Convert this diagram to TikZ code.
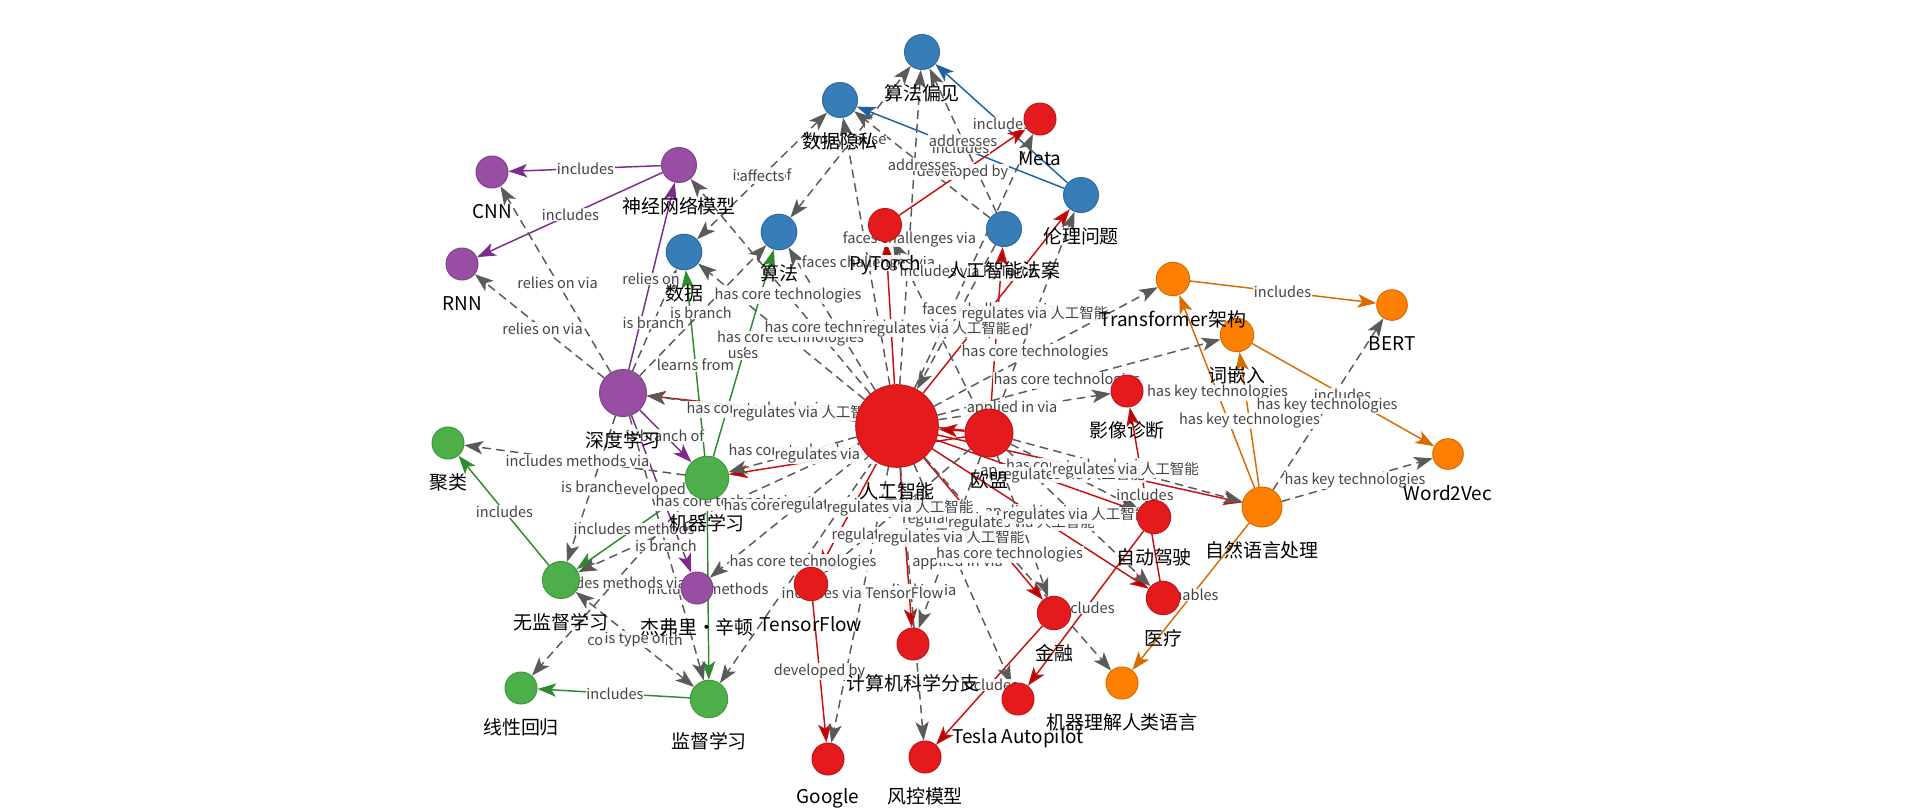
\documentclass[tikz,border=0pt]{standalone}
\usepackage{fontspec}
\setmainfont{Noto Sans CJK SC}
\usetikzlibrary{arrows.meta,calc}
\definecolor{nred}{HTML}{E41A1C}
\definecolor{nblue}{HTML}{377EB8}
\definecolor{ngreen}{HTML}{4DAF4A}
\definecolor{npurple}{HTML}{984EA3}
\definecolor{norange}{HTML}{FF7F00}
\definecolor{egray}{HTML}{5A5A5A}
\definecolor{ered}{HTML}{C81010}
\definecolor{ared}{HTML}{B00000}
\definecolor{epurple}{HTML}{7D2C8C}
\definecolor{egreen}{HTML}{2E8B2E}
\definecolor{eblue}{HTML}{1F62A3}
\definecolor{eorange}{HTML}{D96C00}
\definecolor{labgray}{HTML}{444444}
\pgfdeclarelayer{bg}
\pgfdeclarelayer{edgesA}
\pgfdeclarelayer{edgesB}
\pgfdeclarelayer{elabels}
\pgfdeclarelayer{nlabels}
\pgfsetlayers{bg,edgesA,edgesB,elabels,main,nlabels}
\tikzset{
  gnode/.style={circle,inner sep=0pt,line width=0.75pt},
  nlab/.style={font=\fontsize{14.2pt}{16pt}\selectfont,text=black,inner sep=0pt},
  elab/.style={font=\fontsize{10.9pt}{12pt}\selectfont,text=labgray,fill=white,fill opacity=0.9,text opacity=1,inner sep=0.4pt},
  ed/.style={draw=egray,line width=1.1pt,dash pattern=on 6.5pt off 4pt,-{Stealth[length=14pt,width=10pt,inset=3.5pt,fill=egray]}},
  edb/.style={draw=egray,line width=1.1pt,dash pattern=on 6.5pt off 4pt,{Stealth[length=14pt,width=10pt,inset=3.5pt,fill=egray]}-{Stealth[length=14pt,width=10pt,inset=3.5pt,fill=egray]}},
  er/.style={draw=ered,line width=1.1pt,-{Stealth[length=14pt,width=10pt,inset=3.5pt,fill=ared]}},
  ep/.style={draw=epurple,line width=1.1pt,-{Stealth[length=14pt,width=10pt,inset=3.5pt,fill=epurple]}},
  eg/.style={draw=egreen,line width=1.1pt,-{Stealth[length=14pt,width=10pt,inset=3.5pt,fill=egreen]}},
  eb/.style={draw=eblue,line width=1.1pt,-{Stealth[length=14pt,width=10pt,inset=3.5pt,fill=eblue]}},
  eo/.style={draw=eorange,line width=1.1pt,-{Stealth[length=14pt,width=10pt,inset=3.5pt,fill=eorange]}},
}
\newcommand\GN[6]{%
  \node[gnode,fill=#5,draw=#5!85!black,minimum size=#4*1.5pt] (#1) at (#2,#3) {};
  \begin{pgfonlayer}{nlabels}\node[nlab] (#1L) at ($(#1.south)+(0,23)$) {#6};\end{pgfonlayer}}
\newcommand\LB[3]{\begin{pgfonlayer}{elabels}\node[elab] at ($(#1)!.5!(#2)$) {#3};\end{pgfonlayer}}
\newcommand\EA[4]{\begin{pgfonlayer}{edgesA}\draw[#1] (#2) -- (#3);\end{pgfonlayer}%
  \ifx\relax#4\relax\else\LB{#2}{#3}{#4}\fi}
\newcommand\EB[4]{\begin{pgfonlayer}{edgesB}\draw[#1] (#2) -- (#3);\end{pgfonlayer}%
  \ifx\relax#4\relax\else\LB{#2}{#3}{#4}\fi}
\begin{document}
\begin{tikzpicture}[x=0.75pt,y=-0.75pt]
\useasboundingbox (0,0) rectangle (1914,811);
\begin{pgfonlayer}{bg}\fill[white] (0,0) rectangle (1914,811);\end{pgfonlayer}
% nodes
\GN{ai}{897}{426}{41.3}{nred}{人工智能}
\GN{eu}{989}{433}{24}{nred}{欧盟}
\GN{bias}{922}{52}{17.5}{nblue}{算法偏见}
\GN{priv}{840}{100}{17.5}{nblue}{数据隐私}
\GN{meta}{1040}{119}{16}{nred}{Meta}
\GN{eth}{1081}{195}{17.5}{nblue}{伦理问题}
\GN{act}{1004}{229}{17.5}{nblue}{人工智能法案}
\GN{pyt}{885}{225}{16.5}{nred}{PyTorch}
\GN{algo}{779}{232}{17.8}{nblue}{算法}
\GN{data}{684}{252}{17.8}{nblue}{数据}
\GN{nn}{679}{165}{17.5}{npurple}{神经网络模型}
\GN{cnn}{492}{172}{16}{npurple}{CNN}
\GN{rnn}{462}{264}{16}{npurple}{RNN}
\GN{dl}{623}{393}{23.5}{npurple}{深度学习}
\GN{clu}{448}{443}{16}{ngreen}{聚类}
\GN{ml}{707}{478}{21.7}{ngreen}{机器学习}
\GN{uns}{561}{580}{18.5}{ngreen}{无监督学习}
\GN{hin}{697}{588}{16}{npurple}{杰弗里·辛顿}
\GN{lin}{521}{688}{16}{ngreen}{线性回归}
\GN{sup}{709}{699}{18.7}{ngreen}{监督学习}
\GN{img}{1127}{391}{16}{nred}{影像诊断}
\GN{auto}{1154}{517}{16.7}{nred}{自动驾驶}
\GN{tf}{811}{584}{16.7}{nred}{TensorFlow}
\GN{csb}{913}{644}{16}{nred}{计算机科学分支}
\GN{fin}{1054}{613}{16.7}{nred}{金融}
\GN{med}{1163}{598}{16.7}{nred}{医疗}
\GN{tesla}{1018}{699}{16}{nred}{Tesla Autopilot}
\GN{mul}{1122}{683}{16}{norange}{机器理解人类语言}
\GN{goo}{828}{759}{16}{nred}{Google}
\GN{risk}{925}{757}{16}{nred}{风控模型}
\GN{trf}{1173}{279}{16.7}{norange}{Transformer架构}
\GN{bert}{1392}{305}{15.3}{norange}{BERT}
\GN{emb}{1237}{335}{16.7}{norange}{词嵌入}
\GN{w2v}{1448}{454}{15.3}{norange}{Word2Vec}
\GN{nlp}{1262}{507}{20}{norange}{自然语言处理}
% coloured edges
\EA{ep}{nn}{cnn}{includes}
\EA{ep}{nn}{rnn}{includes}
\EA{ep}{dl}{nn}{relies on}
\EA{ep}{dl}{ml}{is branch of}
\EA{ep}{dl}{hin}{developed by}
\EA{eg}{ml}{data}{learns from}
\EA{eg}{ml}{algo}{uses}
\EA{eg}{ml}{sup}{includes methods}
\EA{eg}{ml}{uns}{includes methods}
\EA{eg}{uns}{clu}{includes}
\EA{eg}{sup}{lin}{includes}
\EA{eb}{eth}{bias}{includes}
\EA{eb}{eth}{priv}{includes}
\EA{eo}{trf}{bert}{includes}
\EA{eo}{emb}{w2v}{includes}
\EA{eo}{nlp}{trf}{has key technologies}
\EA{eo}{nlp}{emb}{has key technologies}
\EA{eo}{nlp}{mul}{enables}
\EA{er}{pyt}{meta}{developed by}
\EA{er}{tf}{goo}{developed by}
\EA{er}{fin}{risk}{includes}
\EA{er}{auto}{tesla}{includes}
\EA{er}{med}{img}{includes}
\EA{er}{eu}{ai}{}
\EA{er}{eu}{act}{proposed}
\EA{er}{ai}{pyt}{includes}
\EA{er}{ai}{eth}{faces challenges via}
\EA{er}{ai}{auto}{applied in via}
\EA{er}{ai}{med}{applied in via}
\EA{er}{ai}{nlp}{has core technologies}
% dashed edges
\EB{ed}{dl}{cnn}{relies on via}
\EB{ed}{dl}{rnn}{relies on via}
\EB{ed}{dl}{data}{is branch}
\EB{ed}{dl}{algo}{is branch}
\EB{ed}{dl}{uns}{is branch}
\EB{ed}{dl}{sup}{is branch}
\EB{ed}{ml}{clu}{includes methods via}
\EB{ed}{ml}{lin}{includes methods via}
\EB{edb}{sup}{uns}{contrasts with}
\LB{uns}{sup}{is type of}
\EB{edb}{priv}{data}{is part of}
\LB{priv}{data}{affects}
\EB{edb}{algo}{bias}{may cause}
\EB{ed}{act}{bias}{addresses}
\EB{ed}{act}{priv}{addresses}
\EB{ed}{act}{ai}{}
\EB{ed}{ai}{bias}{faces challenges via}
\EB{ed}{ai}{priv}{faces challenges via}
\EB{ed}{ai}{meta}{includes via PyTorch}
\EB{ed}{ai}{risk}{applied in via}
\EB{ed}{ai}{goo}{includes via TensorFlow}
\EB{ed}{ai}{nn}{has core technologies}
\EB{ed}{ai}{data}{has core technologies}
\EB{ed}{ai}{algo}{has core technologies}
\EB{ed}{ai}{dl}{has core technologies}
\EB{ed}{ai}{ml}{has core technologies}
\EB{ed}{ai}{uns}{has core technologies}
\EB{ed}{ai}{sup}{has core technologies}
\EB{ed}{ai}{hin}{has core technologies}
\EB{ed}{ai}{trf}{has core technologies}
\EB{ed}{ai}{emb}{has core technologies}
\EB{ed}{ai}{img}{applied in via}
\EB{ed}{ai}{tesla}{applied in via}
\EB{ed}{ai}{mul}{has core technologies}
\EB{ed}{nlp}{bert}{has key technologies}
\EB{ed}{nlp}{w2v}{has key technologies}
% regulation edges (labels on top)
\EA{er}{eu}{dl}{regulates via 人工智能}
\EA{er}{eu}{ml}{regulates via 人工智能}
\EA{er}{ai}{tf}{regulates via 人工智能}
\EA{er}{ai}{csb}{regulates via 人工智能}
\EA{er}{ai}{fin}{regulates via 人工智能}
\EB{ed}{eu}{pyt}{regulates via 人工智能}
\EB{ed}{eu}{eth}{regulates via 人工智能}
\EB{ed}{eu}{tf}{regulates via 人工智能}
\EB{ed}{eu}{csb}{regulates via 人工智能}
\EB{ed}{eu}{fin}{regulates via 人工智能}
\EB{ed}{eu}{auto}{regulates via 人工智能}
\EB{ed}{eu}{med}{regulates via 人工智能}
\EB{ed}{eu}{nlp}{regulates via 人工智能}
\end{tikzpicture}
\end{document}
